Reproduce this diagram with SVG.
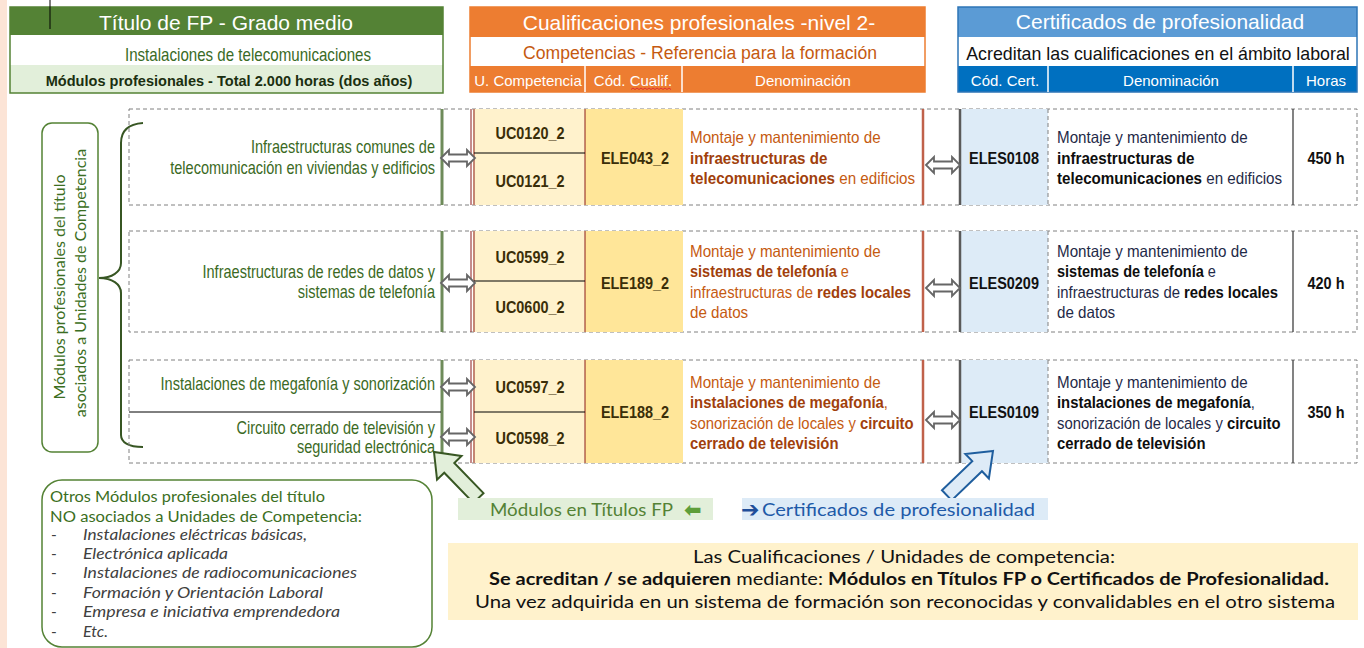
<svg xmlns="http://www.w3.org/2000/svg" width="1364" height="648" viewBox="0 0 1364 648">
<defs>
<style>
.n{font-family:'Liberation Sans',Arial,sans-serif}
.c{font-family:Lato,'Open Sans','DejaVu Sans',sans-serif}
.b{font-weight:bold}
.w{fill:#fff}
.mod{fill:#3B6A24;font-size:17.5px;text-anchor:end}
.uc{fill:#3A2E08;font-size:17px;font-weight:bold;text-anchor:middle}
.od{fill:#C55A11;font-size:16.5px}
.od .k{fill:#A13F0C;font-weight:bold}
.bd{fill:#1F2A48;font-size:16.5px}
.bd .k{fill:#0E0E0E;font-weight:bold}
.hr{fill:#111;font-size:17px;font-weight:bold;text-anchor:middle}
.dash{fill:none;stroke:#808080;stroke-width:1;stroke-dasharray:4 3}
.gl{stroke:#6E8B5A;stroke-width:3}
.rl{stroke:#8B1A1A;stroke-width:1}
.sl{stroke:#C0614A;stroke-width:2.5}
.kl{stroke:#5A5A5A;stroke-width:2.5}
.tl{stroke:#404040;stroke-width:1.3}
.dv{stroke:#000;stroke-width:1}
.ucbg{fill:#FFF2CC}
.elbg{fill:#FFE699}
.cebg{fill:#DDEBF7}
.arr{fill:#fff;stroke:#666;stroke-width:1.8}
.it{fill:#404040;font-size:15.5px;font-style:italic}
.gt{fill:#3B6E22;font-size:15.5px}
.bt{fill:#111;font-size:16.5px}
.sh{font-size:15px;fill:#fff}
</style>
<path id="dbl" d="M-17,0 L-9,-8 L-9,-3.5 L9,-3.5 L9,-8 L17,0 L9,8 L9,3.5 L-9,3.5 L-9,8 Z"/>
<path id="blk" d="M0,0 L-22,-17 L-22,-7 L-64,-7 L-64,7 L-22,7 L-22,17 Z"/>
</defs>
<rect x="0" y="0" width="1364" height="648" fill="#fff"/>
<rect x="0" y="0" width="7" height="648" fill="#FCE4D6"/>

<g id="hdr-fp">
<rect x="10" y="7" width="433" height="28" fill="#548235"/>
<rect x="10" y="35" width="433" height="30" fill="#fff"/>
<rect x="10" y="65" width="433" height="28" fill="#E2EFDA"/>
<rect x="10" y="7" width="433" height="86" fill="none" stroke="#548235" stroke-width="1.5"/>
<text class="n w" x="226" y="30" font-size="21" text-anchor="middle">Título de FP - Grado medio</text>
<text class="n" transform="translate(248 61) scale(.84 1)" font-size="18" fill="#3A6B26" text-anchor="middle">Instalaciones de telecomunicaciones</text>
<text class="n b" transform="translate(229 86) scale(.97 1)" font-size="15" fill="#1B2F10" text-anchor="middle">Módulos profesionales - Total 2.000 horas (dos años)</text>
</g>
<line x1="50" y1="0" x2="50" y2="29" stroke="#000" stroke-width="1"/>

<g id="hdr-cual">
<rect x="470" y="7" width="455" height="30" fill="#ED7D31"/>
<rect x="470" y="37" width="455" height="29" fill="#fff"/>
<rect x="470" y="66" width="455" height="26" fill="#ED7D31"/>
<rect x="470" y="7" width="455" height="85" fill="none" stroke="#ED7D31" stroke-width="1.5"/>
<line x1="585" y1="66" x2="585" y2="92" stroke="#fff" stroke-width="1.5"/>
<line x1="682" y1="66" x2="682" y2="92" stroke="#fff" stroke-width="1.5"/>
<text class="n w" x="699" y="30" font-size="21" text-anchor="middle">Cualificaciones profesionales -nivel 2-</text>
<text class="n" x="700" y="59" font-size="17.6" fill="#C55A11" text-anchor="middle">Competencias - Referencia para la formación</text>
<text class="n sh" x="528" y="86" text-anchor="middle">U. Competencia</text>
<text class="n sh" x="633" y="86" text-anchor="middle">Cód. Cualif.</text>
<text class="n sh" x="803" y="86" text-anchor="middle">Denominación</text>
<polyline points="631,89.5 633,88 635,89.5 637,88 639,89.5 641,88 643,89.5 645,88 647,89.5 649,88 651,89.5 653,88 655,89.5 657,88 659,89.5 661,88 663,89.5 665,88 667,89.5 669,88 671,89.5" fill="none" stroke="#E03030" stroke-width="1"/>
</g>

<g id="hdr-cert">
<rect x="958" y="7" width="399" height="30" fill="#5B9BD5"/>
<rect x="958" y="37" width="399" height="29" fill="#fff"/>
<rect x="958" y="66" width="399" height="26" fill="#0070C0"/>
<rect x="958" y="7" width="399" height="85" fill="none" stroke="#2E75B6" stroke-width="1.5"/>
<line x1="1048" y1="66" x2="1048" y2="92" stroke="#fff" stroke-width="1.5"/>
<line x1="1293" y1="66" x2="1293" y2="92" stroke="#fff" stroke-width="1.5"/>
<text class="n w" x="1160" y="29" font-size="21" text-anchor="middle">Certificados de profesionalidad</text>
<text class="n" x="1158" y="60" font-size="17.8" fill="#111" text-anchor="middle">Acreditan las cualificaciones en el ámbito laboral</text>
<text class="n sh" x="1005" y="86" text-anchor="middle">Cód. Cert.</text>
<text class="n sh" x="1171" y="86" text-anchor="middle">Denominación</text>
<text class="n sh" x="1326" y="86" text-anchor="middle">Horas</text>
</g>

<g id="label-asociados">
<rect x="42" y="123" width="56" height="329" rx="10" fill="#fff" stroke="#548235" stroke-width="1.5"/>
<text class="c" x="65" y="287" font-size="16" fill="#3B6E22" text-anchor="middle" transform="rotate(-90 65 287)">Módulos profesionales del título</text>
<text class="c" x="86" y="283" font-size="16" fill="#3B6E22" text-anchor="middle" transform="rotate(-90 86 283)">asociados a Unidades de Competencia</text>
<path d="M143,123 C128,124 121,131 121,143 L121,263 C121,272 112,278 99,278 C112,278 121,284 121,293 L121,435 C121,442 128,447 143,447" fill="none" stroke="#375623" stroke-width="2"/>
</g>

<g id="row1">
<rect class="dash" x="129" y="109" width="1228" height="96"/>
<rect class="ucbg" x="473" y="109" width="112" height="96"/>
<rect class="elbg" x="585" y="109" width="98" height="96"/>
<rect class="cebg" x="961" y="109" width="87" height="96"/>
<line class="gl" x1="442" y1="109" x2="442" y2="205"/>
<line class="rl" x1="471" y1="109" x2="471" y2="205"/>
<line class="rl" x1="474" y1="109" x2="474" y2="205"/>
<line class="rl" x1="585" y1="109" x2="585" y2="205"/>
<line class="sl" x1="923" y1="109" x2="923" y2="205"/>
<line class="kl" x1="960" y1="109" x2="960" y2="205"/>
<line class="dash" x1="1048" y1="109" x2="1048" y2="205"/>
<line class="tl" x1="1293" y1="109" x2="1293" y2="205"/>
<line class="dv" x1="474" y1="153" x2="585" y2="153"/>
<text class="n mod" transform="translate(435 153) scale(.83 1)">Infraestructuras comunes de</text>
<text class="n mod" transform="translate(435 174) scale(.83 1)">telecomunicación en viviendas y edificios</text>
<text class="n uc" transform="translate(530 139) scale(.85 1)">UC0120_2</text>
<text class="n uc" transform="translate(530 187) scale(.85 1)">UC0121_2</text>
<text class="n uc" transform="translate(635 164) scale(.85 1)">ELE043_2</text>
<text class="n od" transform="translate(690 143) scale(.92 1)">Montaje y mantenimiento de</text>
<text class="n od" transform="translate(690 164) scale(.92 1)"><tspan class="k">infraestructuras de</tspan></text>
<text class="n od" transform="translate(690 184) scale(.92 1)"><tspan class="k">telecomunicaciones</tspan> en edificios</text>
<text class="n hr" transform="translate(1004 164) scale(.85 1)">ELES0108</text>
<text class="n bd" transform="translate(1057 143) scale(.92 1)">Montaje y mantenimiento de</text>
<text class="n bd" transform="translate(1057 164) scale(.92 1)"><tspan class="k">infraestructuras de</tspan></text>
<text class="n bd" transform="translate(1057 184) scale(.92 1)"><tspan class="k">telecomunicaciones</tspan> en edificios</text>
<text class="n hr" transform="translate(1326 164) scale(.85 1)">450 h</text>
</g>

<g id="row2">
<rect class="dash" x="129" y="231" width="1228" height="101"/>
<rect class="ucbg" x="473" y="231" width="112" height="101"/>
<rect class="elbg" x="585" y="231" width="98" height="101"/>
<rect class="cebg" x="961" y="231" width="87" height="101"/>
<line class="gl" x1="442" y1="231" x2="442" y2="332"/>
<line class="rl" x1="471" y1="231" x2="471" y2="332"/>
<line class="rl" x1="474" y1="231" x2="474" y2="332"/>
<line class="rl" x1="585" y1="231" x2="585" y2="332"/>
<line class="sl" x1="923" y1="231" x2="923" y2="332"/>
<line class="kl" x1="960" y1="231" x2="960" y2="332"/>
<line class="dash" x1="1048" y1="231" x2="1048" y2="332"/>
<line class="tl" x1="1293" y1="231" x2="1293" y2="332"/>
<line class="dv" x1="474" y1="281" x2="585" y2="281"/>
<text class="n mod" transform="translate(435 278) scale(.83 1)">Infraestructuras de redes de datos y</text>
<text class="n mod" transform="translate(435 298) scale(.83 1)">sistemas de telefonía</text>
<text class="n uc" transform="translate(530 263) scale(.85 1)">UC0599_2</text>
<text class="n uc" transform="translate(530 313) scale(.85 1)">UC0600_2</text>
<text class="n uc" transform="translate(635 289) scale(.85 1)">ELE189_2</text>
<text class="n od" transform="translate(690 257) scale(.92 1)">Montaje y mantenimiento de</text>
<text class="n od" transform="translate(690 277) scale(.88 1)"><tspan class="k">sistemas de telefonía</tspan> e</text>
<text class="n od" transform="translate(690 298) scale(.9 1)">infraestructuras de <tspan class="k">redes locales</tspan></text>
<text class="n od" transform="translate(690 318) scale(.92 1)">de datos</text>
<text class="n hr" transform="translate(1004 289) scale(.85 1)">ELES0209</text>
<text class="n bd" transform="translate(1057 257) scale(.92 1)">Montaje y mantenimiento de</text>
<text class="n bd" transform="translate(1057 277) scale(.88 1)"><tspan class="k">sistemas de telefonía</tspan> e</text>
<text class="n bd" transform="translate(1057 298) scale(.9 1)">infraestructuras de <tspan class="k">redes locales</tspan></text>
<text class="n bd" transform="translate(1057 318) scale(.92 1)">de datos</text>
<text class="n hr" transform="translate(1326 289) scale(.85 1)">420 h</text>
</g>

<g id="row3">
<rect class="dash" x="129" y="360" width="1228" height="103"/>
<rect class="ucbg" x="473" y="360" width="112" height="103"/>
<rect class="elbg" x="585" y="360" width="98" height="103"/>
<rect class="cebg" x="961" y="360" width="87" height="103"/>
<line class="gl" x1="442" y1="360" x2="442" y2="463"/>
<line class="rl" x1="471" y1="360" x2="471" y2="463"/>
<line class="rl" x1="474" y1="360" x2="474" y2="463"/>
<line class="rl" x1="585" y1="360" x2="585" y2="463"/>
<line class="sl" x1="923" y1="360" x2="923" y2="463"/>
<line class="kl" x1="960" y1="360" x2="960" y2="463"/>
<line class="dash" x1="1048" y1="360" x2="1048" y2="463"/>
<line class="tl" x1="1293" y1="360" x2="1293" y2="463"/>
<line class="dv" x1="129" y1="412" x2="441" y2="412"/>
<line class="dv" x1="474" y1="412" x2="585" y2="412"/>
<text class="n mod" transform="translate(435 390) scale(.83 1)">Instalaciones de megafonía y sonorización</text>
<text class="n mod" transform="translate(435 434) scale(.83 1)">Circuito cerrado de televisión y</text>
<text class="n mod" transform="translate(435 453) scale(.83 1)">seguridad electrónica</text>
<text class="n uc" transform="translate(530 393) scale(.85 1)">UC0597_2</text>
<text class="n uc" transform="translate(530 444) scale(.85 1)">UC0598_2</text>
<text class="n uc" transform="translate(635 418) scale(.85 1)">ELE188_2</text>
<text class="n od" transform="translate(690 388) scale(.92 1)">Montaje y mantenimiento de</text>
<text class="n od" transform="translate(690 408) scale(.9 1)"><tspan class="k">instalaciones de megafonía</tspan>,</text>
<text class="n od" transform="translate(690 429) scale(.9 1)">sonorización de locales y <tspan class="k">circuito</tspan></text>
<text class="n od" transform="translate(690 449) scale(.9 1)"><tspan class="k">cerrado de televisión</tspan></text>
<text class="n hr" transform="translate(1004 418) scale(.85 1)">ELES0109</text>
<text class="n bd" transform="translate(1057 388) scale(.92 1)">Montaje y mantenimiento de</text>
<text class="n bd" transform="translate(1057 408) scale(.9 1)"><tspan class="k">instalaciones de megafonía</tspan>,</text>
<text class="n bd" transform="translate(1057 429) scale(.9 1)">sonorización de locales y <tspan class="k">circuito</tspan></text>
<text class="n bd" transform="translate(1057 449) scale(.9 1)"><tspan class="k">cerrado de televisión</tspan></text>
<text class="n hr" transform="translate(1326 418) scale(.85 1)">350 h</text>
</g>

<g id="connectors">
<use href="#dbl" class="arr" x="458" y="158"/>
<use href="#dbl" class="arr" x="943" y="165"/>
<use href="#dbl" class="arr" x="458" y="283"/>
<use href="#dbl" class="arr" x="943" y="288"/>
<use href="#dbl" class="arr" x="458" y="387"/>
<use href="#dbl" class="arr" x="458" y="437"/>
<use href="#dbl" class="arr" x="943" y="420"/>
<use href="#blk" transform="translate(434 452) rotate(226)" fill="#E2EFDA" stroke="#385723" stroke-width="2" stroke-linejoin="miter"/>
<use href="#blk" transform="translate(993 451) rotate(-43.8)" fill="#DEEBF7" stroke="#1F5E9E" stroke-width="2" stroke-linejoin="miter"/>
</g>

<g id="otros">
<rect x="42" y="480" width="390" height="167" rx="20" fill="#fff" stroke="#548235" stroke-width="1.5"/>
<text class="c gt" x="50" y="502" textLength="275" lengthAdjust="spacingAndGlyphs">Otros Módulos profesionales del título</text>
<text class="c gt" x="50" y="522" textLength="312" lengthAdjust="spacingAndGlyphs">NO asociados a Unidades de Competencia:</text>
<g class="c it">
<text x="51" y="540" font-style="normal">-</text>
<text x="83" y="540" textLength="224" lengthAdjust="spacingAndGlyphs">Instalaciones eléctricas básicas,</text>
<text x="51" y="559" font-style="normal">-</text>
<text x="83" y="559" textLength="145" lengthAdjust="spacingAndGlyphs">Electrónica aplicada</text>
<text x="51" y="578" font-style="normal">-</text>
<text x="83" y="578" textLength="274" lengthAdjust="spacingAndGlyphs">Instalaciones de radiocomunicaciones</text>
<text x="51" y="598" font-style="normal">-</text>
<text x="83" y="598" textLength="240" lengthAdjust="spacingAndGlyphs">Formación y Orientación Laboral</text>
<text x="51" y="617" font-style="normal">-</text>
<text x="83" y="617" textLength="257" lengthAdjust="spacingAndGlyphs">Empresa e iniciativa emprendedora</text>
<text x="51" y="637" font-style="normal">-</text>
<text x="83" y="637" textLength="25" lengthAdjust="spacingAndGlyphs">Etc.</text>
</g>
</g>

<g id="label-fp">
<rect x="458" y="498" width="255" height="22" fill="#E2EFDA"/>
<text class="c" x="490" y="516" font-size="17.5" fill="#548235" textLength="183" lengthAdjust="spacingAndGlyphs">Módulos en Títulos FP</text>
<text x="684" y="517" font-family="'DejaVu Sans',sans-serif" font-weight="bold" font-size="21" fill="#5E9E3A">⬅</text>
</g>

<g id="label-cert">
<rect x="742" y="498" width="306" height="22" fill="#DDEBF7"/>
<text x="741" y="517" font-family="'DejaVu Sans',sans-serif" font-weight="bold" font-size="22" fill="#1F4E9A">➔</text>
<text class="c" x="762" y="516" font-size="17.5" fill="#1E5AA8" textLength="273" lengthAdjust="spacingAndGlyphs">Certificados de profesionalidad</text>
</g>

<g id="nota">
<rect x="448" y="543" width="910" height="77" fill="#FFF2CC"/>
<text class="c bt" x="693" y="563" textLength="422" lengthAdjust="spacingAndGlyphs">Las Cualificaciones / Unidades de competencia:</text>
<text class="c bt" x="489" y="585" textLength="840" lengthAdjust="spacingAndGlyphs"><tspan font-weight="bold">Se acreditan / se adquieren</tspan> mediante: <tspan font-weight="bold">Módulos en Títulos FP o Certificados de Profesionalidad.</tspan></text>
<text class="c bt" x="475" y="608" textLength="860" lengthAdjust="spacingAndGlyphs">Una vez adquirida en un sistema de formación son reconocidas y convalidables en el otro sistema</text>
</g>
</svg>
